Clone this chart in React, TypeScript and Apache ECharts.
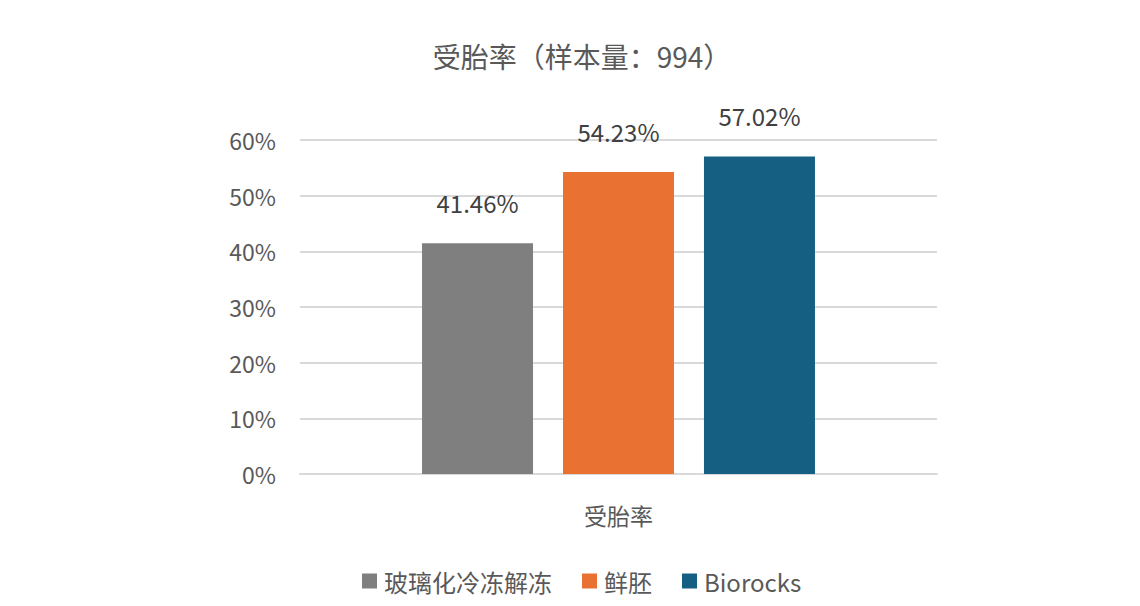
import React, { useEffect, useRef } from "react";
import * as echarts from "echarts";

const categories = ["受胎率"];
const seriesNames = ["玻璃化冷冻解冻", "鲜胚", "Biorocks"];
const seriesValues = [41.46, 54.23, 57.02];
const seriesColors = ["#7f7f7f", "#e97132", "#156082"];
const titleText = "受胎率（样本量：994）";

const FONT = "'Noto Sans CJK SC', 'Noto Sans', sans-serif";
const TEXT = "#595959";

export default function App() {
  const ref = useRef<HTMLDivElement>(null);
  useEffect(() => {
    if (!ref.current) return;
    const chart = echarts.init(ref.current, undefined, { renderer: "svg" });
    chart.setOption({
      animation: false,
      backgroundColor: "#ffffff",
      textStyle: { fontFamily: FONT, color: TEXT },
      title: {
        text: titleText,
        left: 577,
        top: 37,
        textAlign: "center",
        textStyle: { fontFamily: FONT, fontSize: 28, fontWeight: "normal", color: TEXT },
      },
      legend: {
        left: 357,
        top: 564,
        itemWidth: 15,
        itemHeight: 15,
        itemGap: 30,
        icon: "rect",
        textStyle: { fontFamily: FONT, fontSize: 24, color: TEXT, padding: [0, 0, 0, 2] },
        data: seriesNames,
      },
      grid: { left: 300, right: 203, top: 140, bottom: 132 },
      xAxis: {
        type: "category",
        data: categories,
        axisLine: { lineStyle: { color: "#d9d9d9", width: 2 } },
        axisTick: { show: false },
        axisLabel: { fontFamily: FONT, fontSize: 23, color: TEXT, margin: 29 },
      },
      yAxis: {
        type: "value",
        min: 0,
        max: 60,
        interval: 10,
        axisLine: { show: false },
        axisTick: { show: false },
        splitLine: { lineStyle: { color: "#d9d9d9", width: 2 } },
        axisLabel: {
          fontFamily: FONT,
          fontSize: 23,
          color: TEXT,
          margin: 24,
          padding: [0, 0, 3, 0],
          formatter: (v: number) => `${v}%`,
        },
      },
      series: seriesNames.map((name, i) => ({
        name,
        type: "bar",
        barWidth: 111,
        barGap: "27%",
        itemStyle: { color: seriesColors[i] },
        data: [seriesValues[i]],
        label: {
          show: true,
          position: "top",
          distance: 29,
          fontFamily: FONT,
          fontSize: 24,
          color: "#404040",
          formatter: (p: any) => `${p.value.toFixed(2)}%`,
        },
      })),
    });
    return () => chart.dispose();
  }, []);
  return (
    <div
      ref={ref}
      style={{ position: "fixed", left: 0, top: 0, width: 1140, height: 606 }}
    />
  );
}
